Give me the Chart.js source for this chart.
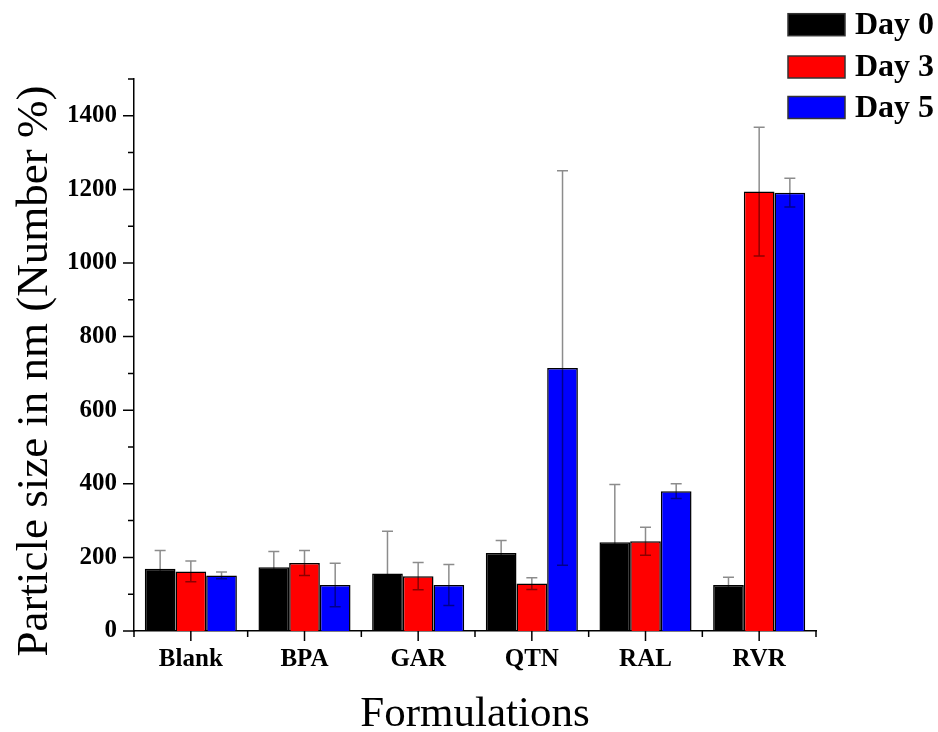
<!DOCTYPE html>
<html>
<head>
<meta charset="utf-8">
<script src="https://cdn.jsdelivr.net/npm/chart.js@4.4.1/dist/chart.umd.min.js"></script>
<style>
  html, body { margin: 0; padding: 0; background: #ffffff; }
  #wrap { width: 938px; height: 732px; }
</style>
</head>
<body>
<div id="wrap"><canvas id="c" width="938" height="732"></canvas></div>
<script>
const categories = ['Blank', 'BPA', 'GAR', 'QTN', 'RAL', 'RVR'];
const seriesLabels = ['Day 0', 'Day 3', 'Day 5'];
const day0 = [169, 173, 156, 212, 241, 125];
const day3 = [162, 185, 149, 129, 244, 1194];
const day5 = [151, 125, 125, 715, 380, 1191];
const err0 = [50, 43, 115, 34, 157, 21];
const err3 = [28, 34, 37, 16, 38, 175];
const err5 = [9, 59, 56, 536, 20, 39];
const yTickLabels = [0, 200, 400, 600, 800, 1000, 1200, 1400];
const xTitle = 'Formulations';
const yTitle = 'Particle size in nm (Number %)';

const colors = ['#000000', '#ff0000', '#0000ff'];
const SERIF = "'Liberation Serif', 'Times New Roman', serif";

const whiteBg = {
  id: 'whiteBg',
  beforeDraw(chart) {
    const ctx = chart.ctx;
    ctx.save();
    ctx.fillStyle = '#ffffff';
    ctx.fillRect(0, 0, chart.width, chart.height);
    ctx.restore();
  }
};

const errorBars = {
  id: 'errorBars',
  afterDatasetsDraw(chart) {
    const ctx = chart.ctx;
    const y = chart.scales.y;
    ctx.save();
    ctx.strokeStyle = 'rgba(0,0,0,0.45)';
    ctx.lineWidth = 1.5;
    chart.data.datasets.forEach((ds, di) => {
      const meta = chart.getDatasetMeta(di);
      meta.data.forEach((bar, i) => {
        const v = ds.data[i];
        const e = ds.errors[i];
        const yt = y.getPixelForValue(v + e);
        const yb = y.getPixelForValue(Math.max(0, v - e));
        const x = bar.x;
        const cap = 5.5;
        ctx.beginPath();
        ctx.moveTo(x, yt); ctx.lineTo(x, yb);
        ctx.moveTo(x - cap, yt); ctx.lineTo(x + cap, yt);
        ctx.moveTo(x - cap, yb); ctx.lineTo(x + cap, yb);
        ctx.stroke();
      });
    });
    ctx.restore();
  }
};

const axisTicks = {
  id: 'axisTicks',
  afterDraw(chart) {
    const ctx = chart.ctx;
    const x = chart.scales.x, y = chart.scales.y;
    const area = chart.chartArea;
    ctx.save();
    ctx.strokeStyle = '#000000';
    ctx.lineWidth = 1.5;
    ctx.beginPath();
    y.ticks.forEach(t => {
      const py = y.getPixelForValue(t.value);
      const major = yTickLabels.indexOf(t.value) !== -1;
      const len = major ? 11 : 6;
      ctx.moveTo(area.left, py); ctx.lineTo(area.left - len, py);
    });
    const n = categories.length;
    const step = (area.right - area.left) / n;
    for (let i = 0; i < n; i++) {
      const cx = x.getPixelForValue(i);
      ctx.moveTo(cx, area.bottom); ctx.lineTo(cx, area.bottom + 10);
    }
    for (let i = 0; i <= n; i++) {
      const bx = area.left + i * step;
      ctx.moveTo(bx, area.bottom); ctx.lineTo(bx, area.bottom + 6);
    }
    ctx.stroke();

    ctx.fillStyle = '#000000';
    ctx.textAlign = 'center';
    ctx.textBaseline = 'middle';
    ctx.font = '43px ' + SERIF;
    ctx.fillText(x.options.title.text, (area.left + area.right) / 2, 715);
    ctx.save();
    ctx.translate(35, 371);
    ctx.rotate(-Math.PI / 2);
    ctx.font = '45px ' + SERIF;
    ctx.fillText(y.options.title.text, 0, 0);
    ctx.restore();

    const rows = [24.7, 67, 107.5];
    chart.data.datasets.forEach((ds, di) => {
      const cy = rows[di];
      ctx.fillStyle = ds.backgroundColor;
      ctx.fillRect(788, cy - 11, 57, 22);
      ctx.strokeStyle = '#333333';
      ctx.lineWidth = 1.5;
      ctx.strokeRect(788, cy - 11, 57, 22);
      ctx.fillStyle = '#000000';
      ctx.textAlign = 'left';
      ctx.textBaseline = 'middle';
      ctx.font = 'bold 32px ' + SERIF;
      ctx.fillText(ds.label, 855, cy + 1);
    });
    ctx.restore();
  }
};

const datasets = [day0, day3, day5].map((d, k) => ({
  label: seriesLabels[k],
  data: d,
  errors: [err0, err3, err5][k],
  backgroundColor: colors[k],
  borderColor: '#000000',
  borderWidth: 1.5,
  borderSkipped: 'start',
  categoryPercentage: 0.81,
  barPercentage: 1.0
}));

new Chart(document.getElementById('c'), {
  type: 'bar',
  data: { labels: categories, datasets },
  plugins: [whiteBg, errorBars, axisTicks],
  options: {
    responsive: false,
    animation: false,
    devicePixelRatio: 1,
    layout: { padding: { left: 0, right: 122, top: 79, bottom: 0 } },
    plugins: { legend: { display: false }, tooltip: { enabled: false } },
    scales: {
      x: {
        type: 'category',
        offset: true,
        grid: { display: false, drawTicks: false },
        border: { display: true, color: '#000000', width: 1.5 },
        ticks: {
          color: '#000000',
          padding: 14,
          maxRotation: 0,
          autoSkip: false,
          font: { family: SERIF, size: 25, weight: 'bold' }
        },
        title: { display: false, text: xTitle },
        afterFit(scale) { scale.height = 732 - 631; }
      },
      y: {
        min: 0,
        max: 1500,
        grid: { display: false, drawTicks: false },
        border: { display: true, color: '#000000', width: 1.5 },
        ticks: {
          stepSize: 100,
          maxTicksLimit: 20,
          autoSkip: false,
          color: '#000000',
          padding: 17,
          font: { family: SERIF, size: 25, weight: 'bold' },
          callback: v => (yTickLabels.indexOf(v) !== -1 ? String(v) : '')
        },
        title: { display: false, text: yTitle },
        afterFit(scale) { scale.width = 134; }
      }
    }
  }
});
</script>
</body>
</html>
